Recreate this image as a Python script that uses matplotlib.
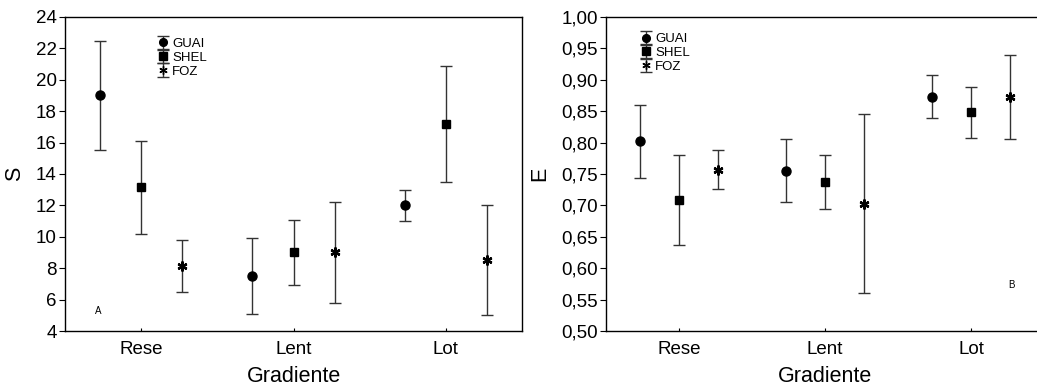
import numpy as np
import matplotlib
matplotlib.use("Agg")
import matplotlib.pyplot as plt
from matplotlib.ticker import FuncFormatter

plt.rcParams['font.family'] = ['Liberation Sans', 'DejaVu Sans']

groups = ['Rese', 'Lent', 'Lot']
series = ['GUAI', 'SHEL', 'FOZ']

# panel A: S (mean, half-width of interval)
s_mean = {'GUAI': [19.0, 7.5, 12.0], 'SHEL': [13.15, 9.0, 17.2], 'FOZ': [8.15, 9.0, 8.5]}
s_err = {'GUAI': [3.5, 2.42, 1.0], 'SHEL': [2.95, 2.1, 3.7], 'FOZ': [1.65, 3.2, 3.5]}

# panel B: E
e_mean = {'GUAI': [0.802, 0.755, 0.873], 'SHEL': [0.709, 0.737, 0.848], 'FOZ': [0.757, 0.703, 0.872]}
e_err = {'GUAI': [0.058, 0.050, 0.034], 'SHEL': [0.072, 0.043, 0.041], 'FOZ': [0.031, 0.142, 0.067]}

markers = {'GUAI': 'o', 'SHEL': 's', 'FOZ': (6, 2, 0)}
msize = {'GUAI': 6.5, 'SHEL': 6, 'FOZ': 7}
offsets = {'GUAI': -0.27, 'SHEL': 0.0, 'FOZ': 0.27}

fig = plt.figure(figsize=(10.37, 3.87), dpi=100)
ax1 = fig.add_axes([0.0627, 0.1447, 0.4407, 0.8114])
ax2 = fig.add_axes([0.5844, 0.1447, 0.4224, 0.8114])


def draw(ax, means, errs):
    x = np.arange(len(groups))
    for s in series:
        ax.errorbar(x + offsets[s], means[s], yerr=errs[s], linestyle='none',
                    marker=markers[s], markersize=msize[s], color='black',
                    markeredgecolor='black', markeredgewidth=1,
                    ecolor='#333333', elinewidth=1, capsize=4, capthick=1,
                    label=s)
        if s == 'FOZ':
            # bolder asterisk on top, caps stay thin
            ax.plot(x + offsets[s], means[s], linestyle='none', marker=markers[s],
                    markersize=msize[s], markeredgecolor='black', markeredgewidth=1.7)
    ax.set_xlim(-0.5, 2.5)
    ax.set_xticks(x)
    ax.set_xticklabels(groups, fontsize=13.5)
    ax.tick_params(axis='x', direction='in', length=2, pad=7)
    ax.tick_params(axis='y', direction='out', length=4, labelsize=13.5, pad=2)
    ax.set_xlabel('Gradiente', fontsize=15.5, labelpad=6)
    for sp in ax.spines.values():
        sp.set_linewidth(1)


def legend(ax, pos):
    ax.legend(loc='upper left', bbox_to_anchor=pos, frameon=False, fontsize=9.5,
              handlelength=0.7, handletextpad=0.35, labelspacing=0.12,
              borderpad=0, markerscale=0.85)


draw(ax1, s_mean, s_err)
ax1.set_ylim(4, 24)
ax1.set_yticks(np.arange(4, 25, 2))
ax1.set_ylabel('S', fontsize=15.5, labelpad=8)
legend(ax1, (0.19, 0.955))
ax1.text(0.072, 0.065, 'A', transform=ax1.transAxes, fontsize=7, ha='center', va='center')

draw(ax2, e_mean, e_err)
ax2.set_ylim(0.5, 1.0)
ax2.set_yticks(np.arange(0.5, 1.001, 0.05))
ax2.yaxis.set_major_formatter(FuncFormatter(lambda v, p: f'{v:.2f}'.replace('.', ',')))
ax2.set_ylabel('E', fontsize=15.5, labelpad=8)
legend(ax2, (0.065, 0.97))
ax2.text(0.925, 0.145, 'B', transform=ax2.transAxes, fontsize=7, ha='center', va='center')

fig.savefig('out.png', dpi=100)
